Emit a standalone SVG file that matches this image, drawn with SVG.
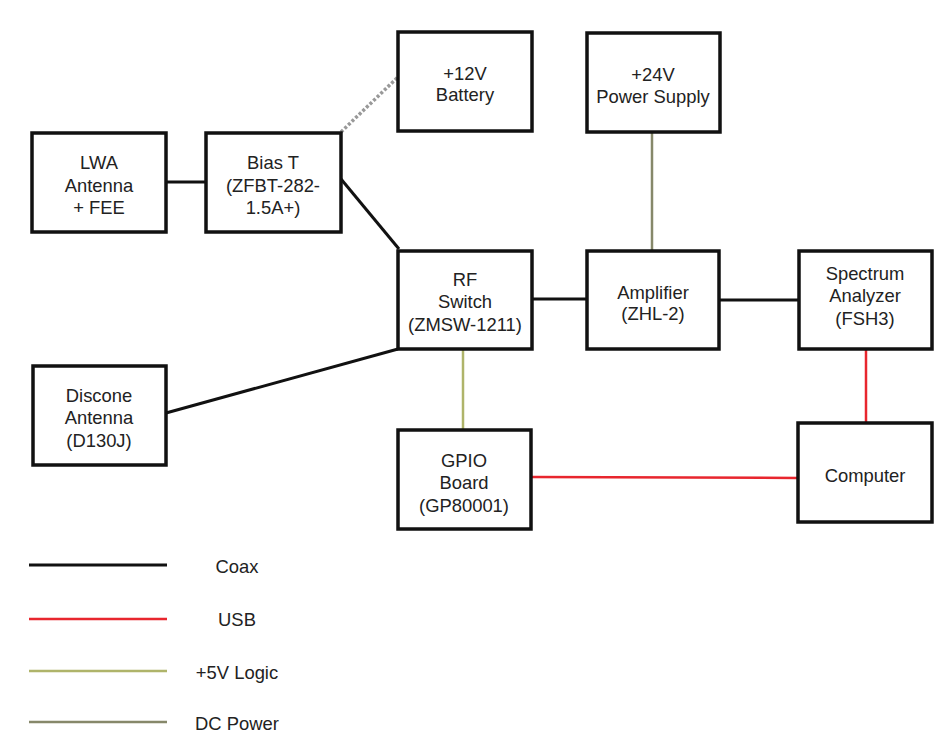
<svg xmlns="http://www.w3.org/2000/svg" width="937" height="746" viewBox="0 0 937 746">
<style>
.box{fill:#fff;stroke:#111;stroke-width:3.5}
.t{font-family:"Liberation Sans",Arial,sans-serif;font-size:18.4px;fill:#222;text-anchor:middle}
.coax{stroke:#111;stroke-width:3;fill:none}
.usb{stroke:#e8262e;stroke-width:2.5;fill:none}
.logic{stroke:#afb46a;stroke-width:2.5;fill:none}
.dc{stroke:#86886a;stroke-width:2.5;fill:none}
.bat{stroke:#999;stroke-width:3.5;stroke-dasharray:3 2;fill:none}
</style>
<rect width="937" height="746" fill="#fff"/>
<g id="connectors">
<line class="coax" x1="166" y1="182" x2="206" y2="182"/>
<line class="bat" x1="341" y1="132" x2="398" y2="77"/>
<line class="coax" x1="341" y1="179" x2="399" y2="249"/>
<line class="coax" x1="166" y1="413" x2="398" y2="349"/>
<line class="coax" x1="532" y1="299" x2="587" y2="299"/>
<line class="coax" x1="719" y1="300" x2="799" y2="300"/>
<line class="dc" x1="652" y1="132" x2="652" y2="251"/>
<line class="logic" x1="463" y1="349" x2="463" y2="430"/>
<line class="usb" x1="532" y1="477" x2="798" y2="478"/>
<line class="usb" x1="866" y1="349" x2="866" y2="423"/>
</g>
<g id="battery"><rect class="box" x="398" y="32" width="134" height="99"/><text class="t" x="465" y="80">+12V</text><text class="t" x="465" y="101">Battery</text></g>
<g id="psu"><rect class="box" x="587" y="33" width="133" height="99"/><text class="t" x="653" y="81">+24V</text><text class="t" x="653" y="103">Power Supply</text></g>
<g id="lwa"><rect class="box" x="32" y="133" width="134" height="99"/><text class="t" x="99" y="169">LWA</text><text class="t" x="99" y="192">Antenna</text><text class="t" x="99" y="214">+ FEE</text></g>
<g id="biast"><rect class="box" x="206" y="133" width="135" height="99"/><text class="t" x="273" y="169">Bias T</text><text class="t" x="273" y="192">(ZFBT-282-</text><text class="t" x="273" y="214">1.5A+)</text></g>
<g id="rfswitch"><rect class="box" x="398" y="251" width="134" height="98"/><text class="t" x="465" y="286">RF</text><text class="t" x="465" y="308">Switch</text><text class="t" x="465" y="331">(ZMSW-1211)</text></g>
<g id="amplifier"><rect class="box" x="587" y="251" width="132" height="98"/><text class="t" x="653" y="299">Amplifier</text><text class="t" x="653" y="320">(ZHL-2)</text></g>
<g id="spectrum"><rect class="box" x="799" y="251" width="133" height="98"/><text class="t" x="865" y="280">Spectrum</text><text class="t" x="865" y="302">Analyzer</text><text class="t" x="865" y="325">(FSH3)</text></g>
<g id="discone"><rect class="box" x="33" y="366" width="133" height="99"/><text class="t" x="99" y="402">Discone</text><text class="t" x="99" y="424">Antenna</text><text class="t" x="99" y="447">(D130J)</text></g>
<g id="gpio"><rect class="box" x="398" y="430" width="133" height="99"/><text class="t" x="464" y="467">GPIO</text><text class="t" x="464" y="489">Board</text><text class="t" x="464" y="512">(GP80001)</text></g>
<g id="computer"><rect class="box" x="798" y="423" width="134" height="99"/><text class="t" x="865" y="482">Computer</text></g>
<g id="legend">
<line class="coax" x1="29" y1="565" x2="167" y2="565"/>
<text class="t" x="237" y="573">Coax</text>
<line class="usb" x1="29" y1="619" x2="167" y2="619"/>
<text class="t" x="237" y="626">USB</text>
<line class="logic" x1="29" y1="671" x2="167" y2="671"/>
<text class="t" x="237" y="679">+5V Logic</text>
<line class="dc" x1="29" y1="722" x2="167" y2="722"/>
<text class="t" x="237" y="730">DC Power</text>
</g>
</svg>
